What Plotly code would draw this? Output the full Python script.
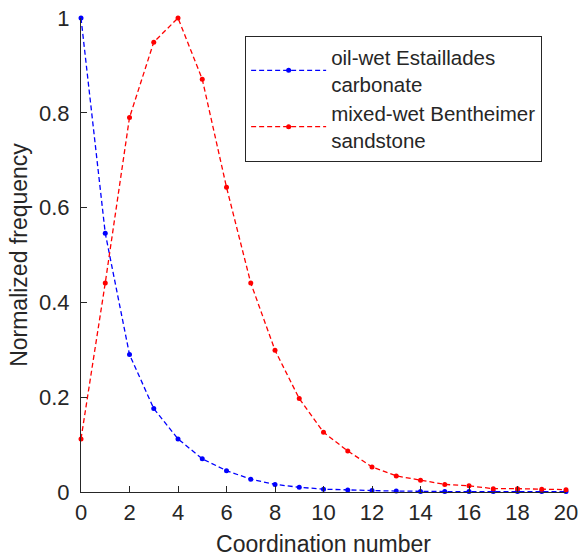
import plotly.graph_objects as go

coord = list(range(21))
oil_wet = [1.0, 0.546, 0.29, 0.176, 0.112, 0.07, 0.045, 0.027, 0.016, 0.01,
           0.006, 0.004, 0.003, 0.002, 0.001, 0.001, 0.001, 0.001, 0.001, 0.001, 0.001]
mixed_wet = [0.112, 0.441, 0.79, 0.949, 1.0, 0.871, 0.643, 0.441, 0.299, 0.197,
             0.126, 0.0865, 0.053, 0.034, 0.025, 0.016, 0.013, 0.007, 0.007, 0.006, 0.005]
x_ticks = list(range(0, 21, 2))
y_ticks = [0, 0.2, 0.4, 0.6, 0.8, 1]
y_labels = ["0", "0.2", "0.4", "0.6", "0.8", "1"]

FONT = "Liberation Sans"
TXT = "#262626"

fig = go.Figure()
fig.add_trace(go.Scatter(
    x=coord, y=oil_wet, mode="lines+markers",
    name="oil-wet Estaillades<br>carbonate",
    line=dict(color="#0000FF", width=1.3, dash="5px,3px"),
    marker=dict(color="#0000FF", size=5), cliponaxis=False))
fig.add_trace(go.Scatter(
    x=coord, y=mixed_wet, mode="lines+markers",
    name="mixed-wet Bentheimer<br>sandstone",
    line=dict(color="#FF0000", width=1.3, dash="5px,3px"),
    marker=dict(color="#FF0000", size=5), cliponaxis=False))

axis_common = dict(showline=True, linecolor=TXT, linewidth=1.2,
                   ticks="inside", ticklen=6, tickcolor=TXT,
                   showgrid=False, zeroline=False, automargin=False,
                   ticklabeloverflow="allow",
                   tickfont=dict(size=22, color=TXT, family=FONT))
fig.update_xaxes(range=[0, 20], tickvals=x_ticks, ticklabelstandoff=0,
                 title=dict(text="Coordination number", font=dict(size=23, color=TXT, family=FONT), standoff=12),
                 **axis_common)
fig.update_yaxes(range=[0, 1], tickvals=y_ticks, ticktext=y_labels, ticklabelstandoff=6,
                 title=dict(text="Normalized frequency", font=dict(size=23, color=TXT, family=FONT), standoff=4),
                 **axis_common)

fig.update_layout(
    width=578, height=560,
    margin=dict(l=81, r=12, t=18, b=68),
    plot_bgcolor="white", paper_bgcolor="white",
    font=dict(family=FONT, color=TXT),
    legend=dict(x=0.338, y=0.962, xanchor="left", yanchor="top",
                bordercolor=TXT, borderwidth=1.2, bgcolor="white",
                itemwidth=75,
                font=dict(size=20.5, color=TXT, family=FONT), tracegroupgap=0),
)
fig.write_html("out.html")
